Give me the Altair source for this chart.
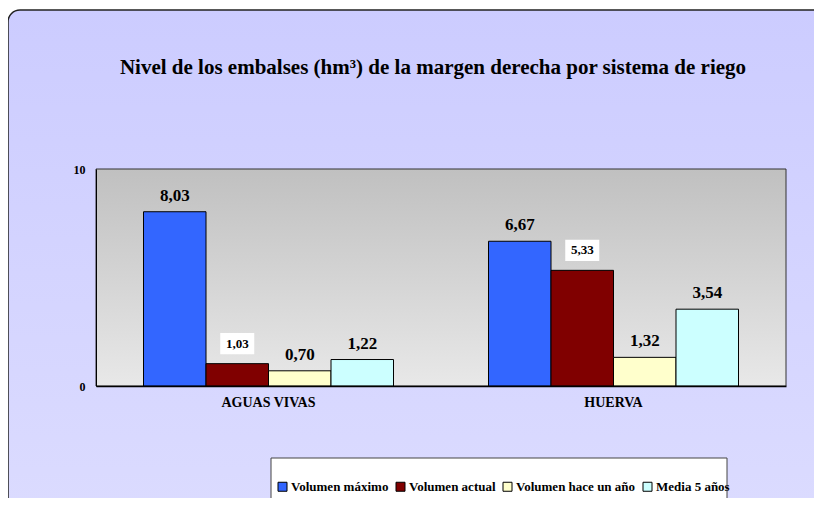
import altair as alt
import pandas as pd

categories = ["AGUAS VIVAS", "HUERVA"]
series = ["Volumen máximo", "Volumen actual", "Volumen hace un año", "Media 5 años"]
colors = ["#3366FF", "#800000", "#FFFFCC", "#CCFFFF"]
vol_maximo = [8.03, 6.67]
vol_actual = [1.03, 5.33]
vol_hace_un_ano = [0.70, 1.32]
media_5 = [1.22, 3.54]
y_ticks = [0, 10]
title_text = "Nivel de los embalses (hm³) de la margen derecha por sistema de riego"

rows = []
for s, vals in zip(series, [vol_maximo, vol_actual, vol_hace_un_ano, media_5]):
    for c, v in zip(categories, vals):
        rows.append({"cat": c, "serie": s, "val": v, "lab": f"{v:.2f}".replace(".", ",")})
df = pd.DataFrame(rows)

W, H = 690, 217
FONT = "Liberation Serif"

one = pd.DataFrame({"k": [0]})

frame = alt.Chart(one).mark_rect(
    cornerRadius=12, stroke="#222222", strokeWidth=1.5,
    fill={"gradient": "linear", "x1": 0, "y1": 0, "x2": 0, "y2": 1,
          "stops": [{"offset": 0, "color": "#CCCCFF"}, {"offset": 1, "color": "#DCDCFF"}]},
).encode(x=alt.value(-88), x2=alt.value(W + 80), y=alt.value(-159), y2=alt.value(H + 150))

plotbg = alt.Chart(one).mark_rect(
    stroke="#333333", strokeWidth=1,
    fill={"gradient": "linear", "x1": 0, "y1": 0, "x2": 0, "y2": 1,
          "stops": [{"offset": 0, "color": "#C0C0C0"}, {"offset": 1, "color": "#E8E8E8"}]},
).encode(x=alt.value(0), x2=alt.value(W), y=alt.value(0), y2=alt.value(H))

legbox = alt.Chart(one).mark_rect(stroke="#444444", strokeWidth=1, fill="white").encode(
    x=alt.value(175), x2=alt.value(631), y=alt.value(289), y2=alt.value(H + 150))

x_enc = alt.X("cat:N", sort=categories,
              scale=alt.Scale(paddingInner=0, paddingOuter=0),
              axis=alt.Axis(title=None, labelAngle=0, ticks=False, tickSize=0, labelPadding=9,
                            labelFont=FONT, labelFontSize=14, labelFontWeight="bold",
                            labelColor="black", domainColor="black", domainWidth=1.5, zindex=1))
xo_enc = alt.XOffset("serie:N", sort=series, scale=alt.Scale(paddingOuter=0.76, paddingInner=0))
y_enc = alt.Y("val:Q", scale=alt.Scale(domain=[0, 10], nice=False),
              axis=alt.Axis(title=None, values=y_ticks, grid=False, ticks=False, tickSize=0,
                            labelPadding=11, labelFont=FONT, labelFontSize=12,
                            labelFontWeight="bold", labelColor="black",
                            domainColor="black", domainWidth=1, zindex=1))

base = alt.Chart(df).encode(x=x_enc, xOffset=xo_enc, y=y_enc)

bars = base.mark_bar(stroke="black", strokeWidth=1).encode(
    color=alt.Color("serie:N", sort=series,
                    scale=alt.Scale(domain=series, range=colors),
                    legend=alt.Legend(orient="none", legendX=180, legendY=311,
                                      direction="horizontal", columns=4, title=None,
                                      symbolType="square", symbolSize=81,
                                      symbolStrokeColor="black", symbolStrokeWidth=1,
                                      labelFont=FONT, labelFontSize=13, labelFontWeight="bold",
                                      labelColor="black", columnPadding=5, labelOffset=2,
                                      padding=0))
)

big = base.transform_filter(alt.datum.serie != "Volumen actual").mark_text(
    font=FONT, fontSize=17, fontWeight="bold", color="black", baseline="middle", dy=-16
).encode(text="lab:N")

boxes = base.transform_filter(alt.datum.serie == "Volumen actual").mark_point(
    shape="M-1,-0.62L1,-0.62L1,0.62L-1,0.62Z", size=34 * 34, filled=True,
    fill="white", opacity=1, strokeWidth=0, yOffset=-20
)

small = base.transform_filter(alt.datum.serie == "Volumen actual").mark_text(
    font=FONT, fontSize=13, fontWeight="bold", color="black", baseline="middle", dy=-20
).encode(text="lab:N")

chart = alt.layer(frame, plotbg, legbox, bars, boxes, big, small).properties(
    width=W, height=H,
    title=alt.TitleParams(title_text, font=FONT, fontSize=21, fontWeight="bold", color="black",
                          anchor="middle", frame="group", offset=-69, dx=-8),
    padding={"left": 88, "top": 161, "right": 28, "bottom": 112},
    autosize=alt.AutoSizeParams(type="none"),
).configure_view(strokeWidth=0).configure(background="white")

chart.save("out.html", embed_options={"renderer": "svg", "actions": False})
